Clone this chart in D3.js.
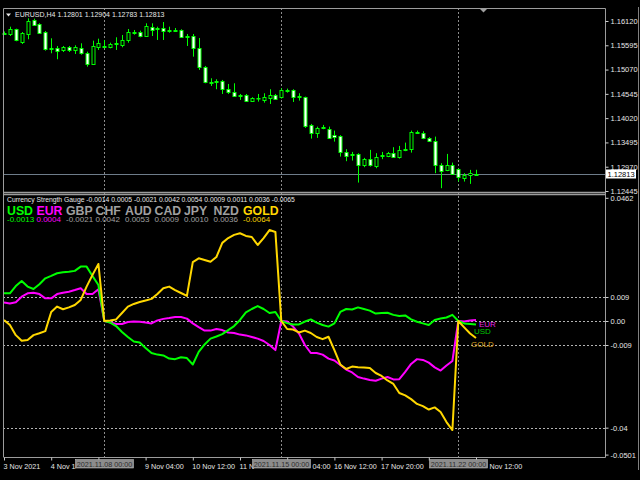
<!DOCTYPE html>
<html>
<head>
<meta charset="utf-8">
<script src="https://cdn.jsdelivr.net/npm/d3@7"></script>
<style>
  html, body { margin: 0; padding: 0; background: #000; }
  svg { display: block; }
</style>
</head>
<body>
<div class="graph"></div>
<script>
// Chart size and window frames
const width = 640;
const height = 480;
const left = 3, right = 605;
const mainTop = 8, mainBottom = 192;
const subTop = 195, subBottom = 457;
const font = "'Liberation Sans', Arial, sans-serif";

// EURUSD H4 candles (3 Nov 04:00 .. 22 Nov 12:00)
const opens = [
  1.15846, 1.15839, 1.15941, 1.15651, 1.15839, 1.16142, 1.16055, 1.15882, 1.15530, 1.15537,
  1.15479, 1.15552, 1.15479, 1.15537, 1.15435, 1.15191, 1.15565, 1.15580, 1.15552, 1.15638,
  1.15602, 1.15695, 1.15867, 1.15882, 1.15796, 1.15997, 1.15969, 1.15969, 1.15932, 1.15932,
  1.15926, 1.15802, 1.15796, 1.15537, 1.15120, 1.14809, 1.14824, 1.14818, 1.14658, 1.14593,
  1.14522, 1.14522, 1.14392, 1.14450, 1.14414, 1.14442, 1.14515, 1.14472, 1.14630, 1.14630,
  1.14494, 1.14472, 1.13867, 1.13694, 1.13824, 1.13794, 1.13651, 1.13636, 1.13290, 1.13254,
  1.13241, 1.13003, 1.13133, 1.13003, 1.13226, 1.13189, 1.13275, 1.13189, 1.13355, 1.13362,
  1.13716, 1.13694, 1.13593, 1.13535, 1.13016, 1.12887, 1.13016, 1.12917, 1.12729, 1.12787, 1.12801
];
const highs = [
  1.15893, 1.15997, 1.15954, 1.15882, 1.16178, 1.16170, 1.16070, 1.15904, 1.15746, 1.15580,
  1.15580, 1.15580, 1.15595, 1.15638, 1.15457, 1.15695, 1.15738, 1.15710, 1.15651, 1.15768,
  1.15818, 1.15947, 1.15926, 1.15911, 1.16070, 1.16070, 1.15997, 1.16098, 1.15997, 1.15969,
  1.15941, 1.15839, 1.15839, 1.15753, 1.15148, 1.14882, 1.14861, 1.14846, 1.14759, 1.14774,
  1.14543, 1.14543, 1.14472, 1.14543, 1.14558, 1.14645, 1.14543, 1.14666, 1.14658, 1.14645,
  1.14558, 1.14485, 1.13895, 1.13837, 1.13874, 1.13837, 1.13751, 1.13651, 1.13349, 1.13290,
  1.13262, 1.13161, 1.13334, 1.13262, 1.13290, 1.13290, 1.13392, 1.13420, 1.13491, 1.13751,
  1.13751, 1.13738, 1.13608, 1.13621, 1.13046, 1.13247, 1.13059, 1.12930, 1.12830, 1.12902, 1.12904
];
const lows = [
  1.15818, 1.15796, 1.15682, 1.15623, 1.15725, 1.16012, 1.15839, 1.15479, 1.15422, 1.15293,
  1.15450, 1.15450, 1.15407, 1.15392, 1.15133, 1.15170, 1.15494, 1.15530, 1.15530, 1.15494,
  1.15552, 1.15651, 1.15824, 1.15768, 1.15781, 1.15796, 1.15710, 1.15710, 1.15867, 1.15882,
  1.15753, 1.15580, 1.15349, 1.15062, 1.14774, 1.14716, 1.14645, 1.14543, 1.14543, 1.14485,
  1.14414, 1.14377, 1.14377, 1.14377, 1.14355, 1.14327, 1.14414, 1.14442, 1.14571, 1.14370,
  1.14399, 1.13809, 1.13578, 1.13593, 1.13781, 1.13578, 1.13513, 1.13189, 1.13090, 1.13103,
  1.12627, 1.12960, 1.12973, 1.12938, 1.13133, 1.13176, 1.13161, 1.13146, 1.13306, 1.13275,
  1.13679, 1.13565, 1.13522, 1.12830, 1.12506, 1.12874, 1.12800, 1.12649, 1.12649, 1.12599, 1.12783
];
const closes = [
  1.15861, 1.15941, 1.15695, 1.15854, 1.16126, 1.16040, 1.15867, 1.15522, 1.15515, 1.15466,
  1.15552, 1.15494, 1.15552, 1.15422, 1.15191, 1.15580, 1.15651, 1.15552, 1.15617, 1.15651,
  1.15710, 1.15876, 1.15882, 1.15796, 1.16012, 1.15941, 1.15941, 1.15911, 1.15919, 1.15919,
  1.15768, 1.15790, 1.15530, 1.15120, 1.14787, 1.14796, 1.14809, 1.14645, 1.14602, 1.14515,
  1.14507, 1.14392, 1.14457, 1.14442, 1.14485, 1.14515, 1.14429, 1.14630, 1.14615, 1.14485,
  1.14478, 1.13837, 1.13694, 1.13809, 1.13809, 1.13593, 1.13614, 1.13290, 1.13204, 1.13241,
  1.13003, 1.13133, 1.13003, 1.13189, 1.13211, 1.13262, 1.13189, 1.13334, 1.13340, 1.13722,
  1.13701, 1.13578, 1.13535, 1.13016, 1.12887, 1.13003, 1.12830, 1.12744, 1.12800, 1.12830, 1.12813
];

// Currency Strength Gauge lines (weekly reset to zero)
const usdStrength = [
  0.0104, 0.0104, 0.0131, 0.0150, 0.0129, 0.0120, 0.0138, 0.0160, 0.0169, 0.0179,
  0.0183, 0.0185, 0.0188, 0.0204, 0.0204, 0.0169, 0.0135, 0.0000, -0.0006, -0.0019,
  -0.0041, -0.0060, -0.0077, -0.0081, -0.0101, -0.0120, -0.0126, -0.0129, -0.0141, -0.0143,
  -0.0136, -0.0139, -0.0163, -0.0116, -0.0088, -0.0066, -0.0058, -0.0049, -0.0034, -0.0019,
  0.0004, 0.0032, 0.0045, 0.0056, 0.0045, 0.0030, 0.0034, 0.0000, -0.0008, -0.0013,
  -0.0013, -0.0002, 0.0006, -0.0006, -0.0015, -0.0021, -0.0009, 0.0034, 0.0045, 0.0043,
  0.0051, 0.0045, 0.0039, 0.0028, 0.0030, 0.0031, 0.0023, 0.0019, 0.0021, 0.0006,
  -0.0003, -0.0009, -0.0015, 0.0004, 0.0009, 0.0013, 0.0023, 0.0000, -0.0009, -0.0011, -0.0013
];
const eurStrength = [
  0.0069, 0.0066, 0.0070, 0.0091, 0.0104, 0.0106, 0.0101, 0.0085, 0.0085, 0.0101,
  0.0106, 0.0110, 0.0116, 0.0123, 0.0101, 0.0101, 0.0119, 0.0000, -0.0006, -0.0011,
  -0.0011, -0.0004, -0.0002, -0.0003, -0.0006, -0.0009, 0.0002, 0.0008, 0.0011, 0.0015,
  0.0015, 0.0009, -0.0009, -0.0023, -0.0036, -0.0036, -0.0030, -0.0034, -0.0043, -0.0045,
  -0.0051, -0.0054, -0.0060, -0.0066, -0.0075, -0.0090, -0.0109, 0.0000, -0.0002, -0.0021,
  -0.0047, -0.0090, -0.0120, -0.0120, -0.0126, -0.0141, -0.0148, -0.0165, -0.0182, -0.0193,
  -0.0210, -0.0216, -0.0221, -0.0224, -0.0216, -0.0210, -0.0219, -0.0218, -0.0191, -0.0161,
  -0.0143, -0.0146, -0.0156, -0.0174, -0.0186, -0.0167, -0.0150, 0.0000, -0.0002, 0.0002, 0.0004
];
const goldStrength = [
  0.0004, -0.0015, -0.0053, -0.0074, -0.0071, -0.0053, -0.0046, -0.0038, 0.0034, 0.0054,
  0.0044, 0.0051, 0.0060, 0.0079, 0.0129, 0.0173, 0.0214, 0.0000, 0.0002, 0.0006,
  0.0030, 0.0054, 0.0064, 0.0071, 0.0077, 0.0083, 0.0101, 0.0123, 0.0129, 0.0116,
  0.0105, 0.0094, 0.0221, 0.0235, 0.0229, 0.0222, 0.0240, 0.0293, 0.0311, 0.0323,
  0.0329, 0.0319, 0.0315, 0.0285, 0.0311, 0.0341, 0.0334, 0.0000, -0.0030, -0.0032,
  -0.0043, -0.0036, -0.0045, -0.0060, -0.0068, -0.0059, -0.0109, -0.0163, -0.0180, -0.0171,
  -0.0173, -0.0174, -0.0176, -0.0195, -0.0206, -0.0223, -0.0236, -0.0270, -0.0279, -0.0293,
  -0.0311, -0.0319, -0.0332, -0.0324, -0.0341, -0.0379, -0.0409, 0.0000, -0.0024, -0.0047, -0.0064
];

// Axis ticks and labels (time labels as far as they show beside the separator tags)
const priceTicks = [1.16120, 1.15595, 1.15070, 1.14545, 1.14020, 1.13495, 1.12970, 1.12445];
const subTicks = [0.0462, 0.009, 0.0, -0.009, -0.04, -0.0501];
const subTickLabels = ["0.0462", "0.009", "0.00", "-0.009", "-0.04", "-0.0501"];
const levels = [0.009, 0.0, -0.009, -0.04];
const timeTicks = [0, 8, 16, 24, 32, 40, 48, 56, 64, 72, 80];
const timeLabels = ["3 Nov 2021", "4 Nov 1", "", "9 Nov 04:00", "10 Nov 12:00",
  "11 N", "04:00", "16 Nov 12:00", "17 Nov 20:00", "", "Nov 12:00"];
const separators = [17, 47, 77];
const separatorLabels = ["2021.11.08 00:00", "2021.11.15 00:00", "2021.11.22 00:00"];

// Gauge header
const gaugeValues = ["-0.0014", "0.0005", "-0.0021", "0.0042", "0.0054", "0.0009", "0.0011", "0.0036", "-0.0065"];
const currencies = ["USD", "EUR", "GBP", "CHF", "AUD", "CAD", "JPY", "NZD", "GOLD"];
const currencyValues = ["-0.0013", "0.0004", "-0.0021", "0.0042", "0.0053", "0.0009", "0.0010", "0.0036", "-0.0064"];
const currencyColors = ["#00ff00", "#ff00ff", "#a0a0a0", "#a0a0a0", "#a0a0a0", "#a0a0a0", "#a0a0a0", "#a0a0a0", "#ffd700"];

// SVG container
const svg = d3
  .select(".graph")
  .append("svg")
  .attr("width", width)
  .attr("height", height)
  .style("background", "#000");

// Scales
const xScale = d3.scaleLinear().domain([0, closes.length - 1]).range([4, 476]);
const yMain = d3.scaleLinear().domain([1.12402, 1.16401]).range([193, mainTop]);
const ySub = d3.scaleLinear().domain([-0.0501, 0.0462]).range([454.6, 197.8]);
const tagHalf = 29;

// Period separators (dotted, through both windows)
svg.append("g")
  .selectAll("line")
  .data(separators)
  .join("line")
  .attr("x1", d => Math.round(xScale(d)) + 0.5)
  .attr("x2", d => Math.round(xScale(d)) + 0.5)
  .attr("y1", mainTop)
  .attr("y2", subBottom)
  .attr("stroke", "#8c8c8c")
  .attr("stroke-dasharray", "2,2");

// Indicator levels
svg.append("g")
  .selectAll("line")
  .data(levels)
  .join("line")
  .attr("x1", left)
  .attr("x2", right)
  .attr("y1", d => Math.round(ySub(d)) + 0.5)
  .attr("y2", d => Math.round(ySub(d)) + 0.5)
  .attr("stroke", "#b4b4b4")
  .attr("stroke-dasharray", "2,2");

// Current price line
const last = closes.length - 1;
const priceY = Math.round(yMain(closes[last])) + 0.5;
svg.append("line")
  .attr("x1", left).attr("x2", right)
  .attr("y1", priceY).attr("y2", priceY)
  .attr("stroke", "#6e7c8a");

// Candles
const bars = closes.map((c, i) => ({ i, o: opens[i], h: highs[i], l: lows[i], c }));
const candle = svg.append("g")
  .selectAll("g")
  .data(bars)
  .join("g");

candle.append("line")
  .attr("x1", d => Math.round(xScale(d.i)) + 0.5)
  .attr("x2", d => Math.round(xScale(d.i)) + 0.5)
  .attr("y1", d => yMain(d.h))
  .attr("y2", d => yMain(d.l))
  .attr("stroke", "#00ff00");

candle.append("rect")
  .attr("x", d => Math.round(xScale(d.i)) - 1)
  .attr("y", d => Math.round(yMain(Math.max(d.o, d.c))) + 0.5)
  .attr("width", 3)
  .attr("height", d => Math.max(0.5, Math.round(Math.abs(yMain(d.o) - yMain(d.c)))))
  .attr("fill", d => (d.c >= d.o ? "#000" : "#fff"))
  .attr("stroke", "#00ff00");

// Gauge lines
const line = d3.line()
  .x((d, i) => xScale(i))
  .y(d => ySub(d));

const series = [
  { values: eurStrength, color: "#ff00ff" },
  { values: usdStrength, color: "#00ff00" },
  { values: goldStrength, color: "#ffd700" }
];

svg.append("g")
  .selectAll("path")
  .data(series)
  .join("path")
  .attr("d", d => line(d.values))
  .attr("fill", "none")
  .attr("stroke", d => d.color)
  .attr("stroke-width", 2)
  .attr("stroke-linejoin", "round");

// Names at the end of the lines
const endLabels = [
  { text: "EUR", color: "#e020e0", dx: 3, dy: 7 },
  { text: "USD", color: "#00c800", dx: -2, dy: 10 },
  { text: "GOLD", color: "#daa520", dx: -5, dy: 8.5 }
];
svg.append("g")
  .selectAll("text")
  .data(endLabels)
  .join("text")
  .attr("x", d => xScale(last) + d.dx)
  .attr("y", (d, i) => ySub(series[i].values[last]) + d.dy)
  .attr("fill", d => d.color)
  .attr("font-family", font)
  .attr("font-size", 8)
  .text(d => d.text);

// Window frames
const frame = svg.append("g").attr("stroke", "#9c9c9c").attr("fill", "none");
frame.append("path").attr("d", `M${left + 0.5},${subBottom} V${mainTop + 0.5} H${right + 0.5} V${subBottom + 0.5} H${left + 0.5}`);
frame.append("line").attr("x1", left).attr("x2", right).attr("y1", mainBottom + 0.5).attr("y2", mainBottom + 0.5).attr("stroke-width", 1.5);
frame.append("line").attr("x1", left).attr("x2", right).attr("y1", subTop - 0.5).attr("y2", subTop - 0.5).attr("stroke-width", 1.5);
frame.append("line").attr("x1", 638.5).attr("x2", 638.5).attr("y1", 7).attr("y2", 470).attr("stroke", "#808080");

// Chart shift marker
svg.append("path")
  .attr("d", "M480,9 L487,9 L483.5,12.5 Z")
  .attr("fill", "#a0a0a0");

// Price axis
const priceAxis = svg.append("g")
  .attr("transform", `translate(${right + 0.5},0)`)
  .call(d3.axisRight(yMain).tickValues(priceTicks).tickSize(3).tickPadding(2).tickFormat(d3.format(".5f")));
priceAxis.select(".domain").remove();
priceAxis.selectAll("line").attr("stroke", "#d0d0d0");
priceAxis.selectAll("text").attr("fill", "#e6e6e6").attr("font-family", font).attr("font-size", 7.5);

// Current price tag
svg.append("rect")
  .attr("x", 606).attr("y", priceY - 5)
  .attr("width", 30).attr("height", 9)
  .attr("fill", "#fff");
svg.append("text")
  .attr("x", 607.5).attr("y", priceY + 2.8)
  .attr("fill", "#000")
  .attr("font-family", font).attr("font-size", 7.5)
  .text(closes[last].toFixed(5));

// Indicator axis
const subAxis = svg.append("g")
  .attr("transform", `translate(${right + 0.5},0)`)
  .call(d3.axisRight(ySub).tickValues(subTicks).tickSize(3).tickPadding(2).tickFormat((d, i) => subTickLabels[i]));
subAxis.select(".domain").remove();
subAxis.selectAll("line").attr("stroke", "#d0d0d0");
subAxis.selectAll("text").attr("fill", "#e6e6e6").attr("font-family", font).attr("font-size", 7.5);

// Time axis: a label whose tick sits under a separator tag starts right after the tag
const sepX = separators.map(s => Math.round(xScale(s)) + 0.5);
const timeAxis = svg.append("g")
  .attr("transform", `translate(0,${subBottom + 0.5})`)
  .call(d3.axisBottom(xScale).tickValues(timeTicks).tickSize(3).tickPadding(2).tickFormat((d, i) => timeLabels[i]));
timeAxis.select(".domain").remove();
timeAxis.selectAll("line").attr("stroke", "#c8c8c8");
timeAxis.selectAll("text")
  .attr("fill", "#e6e6e6")
  .attr("font-family", font)
  .attr("font-size", 7.2)
  .attr("text-anchor", "start")
  .attr("dy", "0.95em")
  .attr("x", d => {
    const tx = xScale(d);
    const s = sepX.find(sx => Math.abs(sx - tx) < tagHalf);
    return s === undefined ? -1 : s + tagHalf + 1.5 - tx;
  });

// Separator time tags
const tag = svg.append("g")
  .selectAll("g")
  .data(separators)
  .join("g")
  .attr("transform", d => `translate(${Math.round(xScale(d)) + 0.5},0)`);
tag.append("rect")
  .attr("x", -tagHalf).attr("y", 459.5)
  .attr("width", tagHalf * 2).attr("height", 8.5)
  .attr("fill", "#8c8c8c")
  .attr("stroke", "#b8b8b8")
  .attr("stroke-width", 0.6);
tag.append("text")
  .attr("y", 466.5)
  .attr("text-anchor", "middle")
  .attr("fill", "#2e2e2e")
  .attr("font-family", font)
  .attr("font-size", 7.2)
  .text((d, i) => separatorLabels[i]);

// Main chart title
svg.append("path").attr("d", "M6,13.5 L11,13.5 L8.5,16.5 Z").attr("fill", "#e6e6e6");
svg.append("text")
  .attr("x", 15).attr("y", 17.3)
  .attr("fill", "#e6e6e6")
  .attr("font-family", font).attr("font-size", 7)
  .text(`EURUSD,H4  ${opens[last].toFixed(5)} ${highs[last].toFixed(5)} ${lows[last].toFixed(5)} ${closes[last].toFixed(5)}`);

// Indicator title
svg.append("text")
  .attr("x", 7).attr("y", 202)
  .attr("fill", "#e6e6e6")
  .attr("font-family", font).attr("font-size", 6.8)
  .text(`Currency Strength Gauge ${gaugeValues.join(" ")}`);

// Currency names and values
svg.append("g")
  .selectAll("text")
  .data(currencies)
  .join("text")
  .attr("x", (d, i) => 7 + i * 29.5)
  .attr("y", 214.5)
  .attr("fill", (d, i) => currencyColors[i])
  .attr("font-family", font)
  .attr("font-weight", "bold")
  .attr("font-size", 12.3)
  .text(d => d);

svg.append("g")
  .selectAll("text")
  .data(currencyValues)
  .join("text")
  .attr("x", (d, i) => 7 + i * 29.5)
  .attr("y", 222.3)
  .attr("fill", (d, i) => currencyColors[i])
  .attr("font-family", font)
  .attr("font-size", 8)
  .text(d => d);
</script>
</body>
</html>
